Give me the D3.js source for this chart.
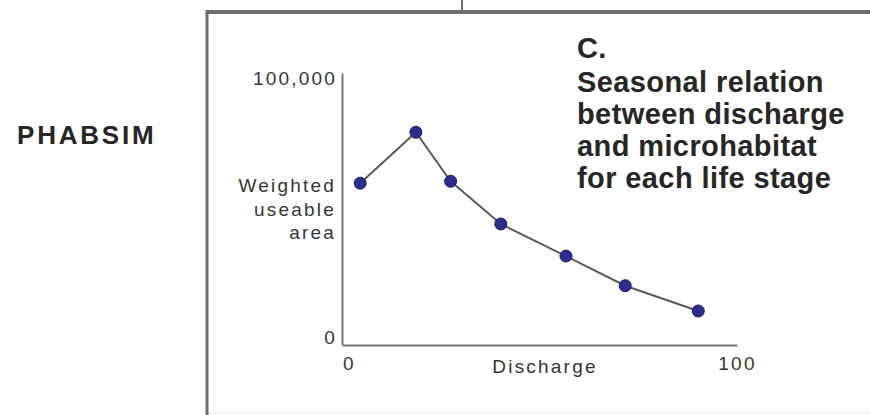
<!DOCTYPE html>
<html>
<head>
<meta charset="utf-8">
<script src="https://cdn.jsdelivr.net/npm/d3@7"></script>
<style>
  body { margin: 0; background: #fff; }
  .small { font-family: "Liberation Sans", Arial, sans-serif; font-size: 19px; letter-spacing: 2.2px; fill: #353535; }
  .big { font-family: "Liberation Sans", Arial, sans-serif; font-weight: bold; fill: #262626; }
</style>
</head>
<body>
<div id="chart"></div>
<script>
// Data
var discharge = [4.6, 18.7, 27.5, 40.2, 56.7, 71.7, 90.2];
var habitat = [59500, 78200, 60200, 44500, 32700, 21800, 12500];
var xTicks = [0, 100];
var yTicks = [0, 100000];
var yLabelLines = ["Weighted", "useable", "area"];
var titleLines = ["C.", "Seasonal relation", "between discharge", "and microhabitat", "for each life stage"];

var svgWidth = 870;
var svgHeight = 415;

var svg = d3.select("#chart")
  .append("svg")
  .attr("width", svgWidth)
  .attr("height", svgHeight);

// panel frame
svg.append("line")
  .attr("x1", 206).attr("x2", svgWidth)
  .attr("y1", 12).attr("y2", 12)
  .attr("stroke", "#6e6e6e").attr("stroke-width", 4);
svg.append("line")
  .attr("x1", 207).attr("x2", 207)
  .attr("y1", 10).attr("y2", svgHeight)
  .attr("stroke", "#6e6e6e").attr("stroke-width", 3);
svg.append("line")
  .attr("x1", 462).attr("x2", 462)
  .attr("y1", 0).attr("y2", 12)
  .attr("stroke", "#6e6e6e").attr("stroke-width", 2);
svg.append("line")
  .attr("x1", 209).attr("x2", svgWidth)
  .attr("y1", 413).attr("y2", 413)
  .attr("stroke", "#e6e6e6").attr("stroke-width", 1);

// PHABSIM label
svg.append("text")
  .attr("class", "big")
  .attr("x", 17).attr("y", 144)
  .style("font-size", "26px")
  .style("letter-spacing", "2.8px")
  .text("PHABSIM");

// scales
var x = d3.scaleLinear().domain([0, 100]).range([342, 737]);
var y = d3.scaleLinear().domain([0, 100000]).range([345, 73]);

// axes
var xAxis = svg.append("g")
  .attr("transform", "translate(0,345)")
  .call(d3.axisBottom(x).tickValues(xTicks).tickSize(0).tickPadding(12));
var yAxis = svg.append("g")
  .attr("transform", "translate(342,0)")
  .call(d3.axisLeft(y).tickValues(yTicks).tickSize(0).tickPadding(5)
    .tickFormat(d3.format(",")));

[xAxis, yAxis].forEach(function(ax) {
  ax.select(".domain").attr("stroke", "#777").attr("stroke-width", 2);
  ax.selectAll("text").attr("class", "small").attr("fill", null).style("font-family", null).style("font-size", null);
});
xAxis.selectAll("text").filter(d => d == 0).attr("dx", 7);
yAxis.selectAll("text").filter(d => d == 0).attr("dy", "-0.1em");
yAxis.selectAll("text").filter(d => d == 100000).attr("dy", "0.6em");

// axis titles
svg.append("text")
  .attr("class", "small")
  .attr("x", 545).attr("y", 373)
  .attr("text-anchor", "middle")
  .text("Discharge");

svg.append("g")
  .selectAll("text")
  .data(yLabelLines)
  .enter()
  .append("text")
  .attr("class", "small")
  .attr("x", 336)
  .attr("y", (d, i) => 192 + i * 23.5)
  .attr("text-anchor", "end")
  .text(d => d);

// panel title
svg.append("g")
  .selectAll("text")
  .data(titleLines)
  .enter()
  .append("text")
  .attr("class", "big")
  .attr("x", 577)
  .attr("y", (d, i) => i == 0 ? 58 : 92 + (i - 1) * 32)
  .style("font-size", "29px")
  .style("letter-spacing", "0.4px")
  .text(d => d);

// line + points
var pts = discharge.map((d, i) => ({ q: d, w: habitat[i] }));

svg.append("path")
  .datum(pts)
  .attr("fill", "none")
  .attr("stroke", "#5a5a5a")
  .attr("stroke-width", 2)
  .attr("d", d3.line().x(d => x(d.q)).y(d => y(d.w)));

svg.selectAll("circle")
  .data(pts)
  .enter()
  .append("circle")
  .attr("cx", d => x(d.q))
  .attr("cy", d => y(d.w))
  .attr("r", 6)
  .attr("fill", "#2c2c8e")
  .attr("stroke", "#1c1c5e")
  .attr("stroke-width", 1);
</script>
</body>
</html>
